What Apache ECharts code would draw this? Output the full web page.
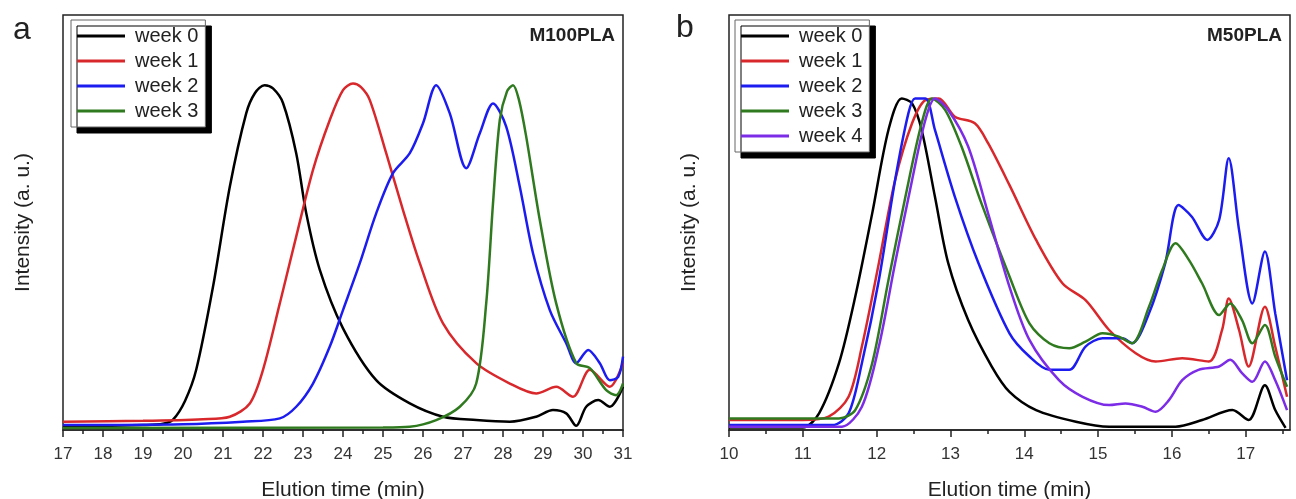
<!DOCTYPE html>
<html>
<head>
<meta charset="utf-8">
<script src="https://cdn.jsdelivr.net/npm/echarts@6/dist/echarts.min.js"></script>
<style>
  html, body { margin: 0; padding: 0; background: #fff; }
  #chart { width: 1296px; height: 499px; }
</style>
</head>
<body>
<div id="chart"></div>
<script>
// panel a: M100PLA, elution time (min) vs intensity (a. u.)
const m100Week0 = [[17,1.0],[18,1.0],[19,1.2],[19.5,1.5],[19.75,2.5],[20.05,7],[20.33,14.5],[20.75,34.5],[21.17,58.6],[21.58,76.3],[21.8,81.2],[22.04,83.1],[22.25,82.3],[22.5,78.8],[22.83,66.7],[23.08,52.3],[23.42,38.6],[24.0,24.5],[24.83,12.0],[25.67,6.4],[26.5,3.2],[27.33,2.4],[28.17,2.0],[28.83,3.2],[29.25,4.8],[29.58,4.0],[29.83,1.0],[30.08,5.6],[30.38,7.2],[30.67,5.6],[31,10.4]]
const m100Week1 = [[17,2.0],[19,2.2],[20.5,2.6],[21.17,3.2],[21.67,6.4],[22.0,14.5],[22.42,30.5],[22.83,46.6],[23.25,62.7],[23.67,74.7],[24.0,81.9],[24.25,83.5],[24.45,82.6],[24.67,79.5],[25.08,66.7],[25.5,53.0],[25.92,40.2],[26.5,25.7],[27.33,16.1],[28.17,11.2],[28.83,8.8],[29.33,10.4],[29.75,8.0],[30.17,14.5],[30.67,10.4],[31,16.1]]
const m100Week2 = [[17,1.2],[20,1.4],[21.5,2.0],[22.42,2.8],[22.83,5.6],[23.25,11.2],[23.67,20.1],[24.0,28.9],[24.42,40.2],[24.83,52.2],[25.25,61.9],[25.67,66.7],[26.0,73.9],[26.33,83.1],[26.67,76.3],[27.08,63.1],[27.42,71.5],[27.75,78.7],[28.08,73.1],[28.42,58.6],[28.75,42.6],[29.17,28.9],[29.58,20.9],[29.83,16.1],[30.13,19.3],[30.42,16.1],[30.67,12.0],[30.88,12.8],[31,17.7]]
const m100Week3 = [[17,0.5],[25,0.6],[25.67,0.8],[26.33,2.4],[26.92,5.6],[27.33,11.2],[27.58,30.5],[27.75,54.6],[27.92,74.7],[28.1,81.6],[28.25,83.1],[28.4,79.5],[28.58,70.7],[28.92,50.6],[29.33,30.5],[29.83,16.1],[30.17,14.9],[30.58,9.6],[30.83,8.4],[31,11.2]]

// panel b: M50PLA
const m50Week0 = [[10,0.6],[10.5,0.6],[11.0,0.6],[11.22,4.0],[11.49,16.1],[11.71,32.1],[11.94,52.2],[12.16,72.3],[12.34,79.9],[12.48,78.7],[12.61,72.3],[12.79,56.2],[12.97,40.2],[13.24,26.5],[13.56,15.3],[13.8,9.2],[14.16,4.8],[14.7,2.0],[15.15,0.8],[16.05,0.8],[16.41,2.4],[16.82,4.8],[17.04,2.4],[17.26,10.8],[17.4,4.8],[17.54,0.5]]
const m50Week1 = [[10,2.4],[11,2.4],[11.35,3.2],[11.62,8.0],[11.8,20.1],[12.03,40.2],[12.25,60.2],[12.48,73.9],[12.66,79.5],[12.84,79.9],[13.06,75.5],[13.33,73.9],[13.51,69.1],[13.8,59],[14.16,45.8],[14.52,35.3],[14.83,31.3],[15.15,24.1],[15.51,18.5],[15.78,16.5],[16.14,17.3],[16.5,16.5],[16.68,24.1],[16.77,31.7],[16.91,24.1],[17.04,15.3],[17.26,29.7],[17.4,20.1],[17.56,8.0]]
const m50Week2 = [[10,1.2],[11.4,1.2],[11.62,4.0],[11.8,16.1],[12.03,36.1],[12.25,60.2],[12.43,76.3],[12.52,79.9],[12.66,79.9],[12.79,72.3],[13.06,56.2],[13.38,40.2],[13.8,23.3],[14.07,17.7],[14.34,14.5],[14.61,14.5],[14.83,20.1],[15.06,22.1],[15.33,22.1],[15.46,20.9],[15.69,28.1],[15.91,40.2],[16.09,54.2],[16.27,51.4],[16.48,45.8],[16.64,50.6],[16.77,65.5],[16.91,48.2],[17.09,30.5],[17.26,43.0],[17.4,28.1],[17.56,12.0]]
const m50Week3 = [[10,2.8],[11.3,2.8],[11.49,2.8],[11.71,4.8],[11.94,16.1],[12.16,36.1],[12.39,56.2],[12.61,73.9],[12.75,79.9],[12.93,77.1],[13.15,68.3],[13.42,54.6],[13.8,37],[14.07,25.7],[14.34,20.9],[14.61,19.7],[14.83,21.3],[15.06,23.3],[15.28,22.5],[15.46,20.9],[15.69,29.7],[15.87,38.6],[16.05,45.0],[16.23,41.0],[16.41,35.3],[16.64,27.7],[16.79,30.5],[16.95,26.5],[17.09,20.9],[17.26,25.3],[17.4,17.7],[17.56,10.4]]
const m50Week4 = [[10,0.8],[11.4,0.8],[11.53,0.8],[11.8,5.6],[12.03,20.1],[12.25,40.2],[12.48,60.2],[12.66,74.7],[12.79,79.9],[12.97,77.1],[13.24,68.3],[13.51,52.2],[13.8,34.5],[14.07,21.7],[14.47,12.0],[14.79,8.0],[15.15,6.0],[15.37,6.4],[15.6,5.6],[15.78,4.4],[15.96,7.2],[16.14,12.0],[16.36,14.5],[16.64,15.3],[16.79,16.9],[16.95,13.7],[17.09,11.6],[17.26,16.5],[17.4,12.0],[17.56,4.8]]

const legendA = ['week 0', 'week 1', 'week 2', 'week 3']
const legendB = ['week 0', 'week 1', 'week 2', 'week 3', 'week 4']
const bMajorTicks = [10, 11, 12, 13, 14, 15, 16, 17]
const bMinorTicks = [10.5, 11.5, 12.5, 13.5, 14.5, 15.5, 16.5, 17.5]

const colors = ['#000000', '#d8282c', '#1c1cf0', '#2f7a1f', '#7c2ce6']
const font = "'Liberation Sans', Arial, sans-serif"

const myChart = echarts.init(document.getElementById('chart'))

function xAxisBase(grid, min, max) {
  return {
    type: 'value',
    gridIndex: grid,
    min: min,
    max: max,
    interval: 1,
    name: 'Elution time (min)',
    nameLocation: 'middle',
    nameGap: 50,
    nameTextStyle: { fontSize: 21, color: '#222', fontFamily: font },
    axisLine: { lineStyle: { color: '#222', width: 1.5 } },
    axisTick: { inside: false, length: 7, lineStyle: { color: '#222', width: 1.5 } },
    axisLabel: { fontSize: 17, color: '#333', margin: 16, fontFamily: font },
    splitLine: { show: false }
  }
}

function yAxisBase(grid) {
  return {
    type: 'value',
    gridIndex: grid,
    min: 0,
    max: 100,
    name: 'Intensity (a. u.)',
    nameLocation: 'middle',
    nameGap: 29,
    nameTextStyle: { fontSize: 21, color: '#222', fontFamily: font },
    axisLine: { show: false },
    axisTick: { show: false },
    axisLabel: { show: false },
    splitLine: { show: false }
  }
}

const xA = xAxisBase(0, 17, 31)
xA.minorTick = { show: true, splitNumber: 2, length: 4, lineStyle: { color: '#222', width: 1.5 } }

const xB = xAxisBase(1, 10, 17.6)
xB.axisTick.customValues = bMajorTicks
xB.axisLabel.customValues = bMajorTicks

// second axis on panel b only for the half-minute ticks
const xB2 = {
  type: 'value',
  gridIndex: 1,
  min: 10,
  max: 17.6,
  position: 'bottom',
  axisLine: { show: false },
  axisTick: { inside: false, length: 4, customValues: bMinorTicks, lineStyle: { color: '#222', width: 1.5 } },
  axisLabel: { show: false },
  splitLine: { show: false }
}

function line(name, data, color, xi, yi) {
  return {
    name: name,
    type: 'line',
    data: data,
    xAxisIndex: xi,
    yAxisIndex: yi,
    showSymbol: false,
    symbol: 'none',
    smooth: 0.3,
    lineStyle: { color: color, width: 2.5 },
    itemStyle: { color: color }
  }
}

function legendBox(data, left, top) {
  return {
    data: data,
    orient: 'vertical',
    left: left,
    top: top,
    icon: 'rect',
    itemWidth: 48,
    itemHeight: 3,
    itemGap: 5,
    padding: [6, 7, 6, 6],
    backgroundColor: '#fff',
    borderColor: '#666',
    borderWidth: 1,
    shadowColor: '#000',
    shadowBlur: 0,
    shadowOffsetX: 6,
    shadowOffsetY: 6,
    selectedMode: false,
    textStyle: { fontSize: 20, color: '#222', fontFamily: font, padding: [0, 0, 0, 5] }
  }
}

const option = {
  backgroundColor: '#fff',
  animation: false,
  grid: [
    { left: 63, top: 15, width: 560, height: 415, outerBoundsMode: 'none', show: true, borderColor: '#222', borderWidth: 1.5, backgroundColor: 'transparent' },
    { left: 729, top: 15, width: 561, height: 415, outerBoundsMode: 'none', show: true, borderColor: '#222', borderWidth: 1.5, backgroundColor: 'transparent' }
  ],
  xAxis: [xA, xB, xB2],
  yAxis: [yAxisBase(0), yAxisBase(1)],
  legend: [legendBox(legendA, 71, 20), legendBox(legendB, 735, 20)],
  series: [
    line('week 0', m100Week0, colors[0], 0, 0),
    line('week 1', m100Week1, colors[1], 0, 0),
    line('week 2', m100Week2, colors[2], 0, 0),
    line('week 3', m100Week3, colors[3], 0, 0),
    line('week 0', m50Week0, colors[0], 1, 1),
    line('week 1', m50Week1, colors[1], 1, 1),
    line('week 2', m50Week2, colors[2], 1, 1),
    line('week 3', m50Week3, colors[3], 1, 1),
    line('week 4', m50Week4, colors[4], 1, 1)
  ],
  graphic: [
    { type: 'text', x: 22, y: 30, style: { text: 'a', fontSize: 32, fontFamily: font, fill: '#222', textAlign: 'center', textVerticalAlign: 'middle' } },
    { type: 'text', x: 685, y: 28, style: { text: 'b', fontSize: 32, fontFamily: font, fill: '#222', textAlign: 'center', textVerticalAlign: 'middle' } },
    { type: 'text', x: 615, y: 36, style: { text: 'M100PLA', fontSize: 19, fontWeight: 'bold', fontFamily: font, fill: '#222', textAlign: 'right', textVerticalAlign: 'middle' } },
    { type: 'text', x: 1282, y: 36, style: { text: 'M50PLA', fontSize: 19, fontWeight: 'bold', fontFamily: font, fill: '#222', textAlign: 'right', textVerticalAlign: 'middle' } }
  ]
}

myChart.setOption(option)
</script>
</body>
</html>
